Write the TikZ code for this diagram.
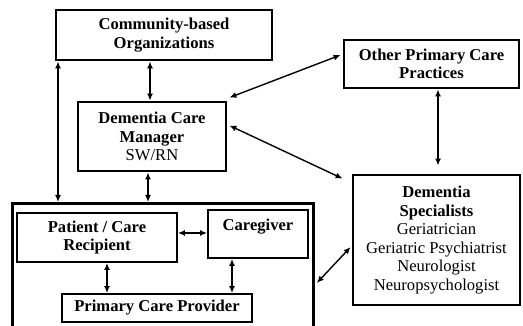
\documentclass[tikz,border=0pt]{standalone}
\usepackage{fontspec}
\setmainfont{Liberation Serif}
\usetikzlibrary{arrows.meta,calc}
\begin{document}
\begin{tikzpicture}[x=1pt,y=-1pt,
  every node/.style={font=\fontsize{16.6}{18.5}\selectfont, align=center, inner sep=0pt},
  bigbox/.style={draw, line width=2.8pt, fill=white},
  smallbox/.style={draw, line width=1.8pt},
  link/.style={line width=1.4pt, {Latex[length=7pt,width=6pt]}-{Latex[length=7pt,width=6pt]}}
]
\useasboundingbox[fill=white] (0,0) rectangle (523,326);

% care team frame (runs past the lower edge)
\node[bigbox, minimum width=301pt, minimum height=150pt, anchor=north west] (team) at (11,202) {};

% outer organisations
\node[bigbox, minimum width=216pt, minimum height=50pt] (cbo) at (164,35)
  {\textbf{Community-based}\\\textbf{Organizations}};
\node[bigbox, minimum width=148pt, minimum height=69pt] (dcm) at (152,136.5)
  {\textbf{Dementia Care}\\\textbf{Manager}\\SW/RN};
\node[bigbox, minimum width=175pt, minimum height=48pt] (opcp) at (431.5,64)
  {\textbf{Other Primary Care}\\\textbf{Practices}};
\node[bigbox, minimum width=167pt, minimum height=130pt] (ds) at (436.5,240)
  {\textbf{Dementia}\\\textbf{Specialists}\\Geriatrician\\Geriatric Psychiatrist\\Neurologist\\Neuropsychologist};

% members of the care team
\node[smallbox, minimum width=160pt, minimum height=49pt] (pat) at (97,237.5)
  {\textbf{Patient / Care}\\\textbf{Recipient}};
\node[smallbox, minimum width=100pt, minimum height=48pt] (cg) at (258,234) {};
\node[anchor=north] (cgtext) at ([yshift=-10pt]cg.north) {\textbf{Caregiver}};
\node[smallbox, minimum width=190pt, minimum height=28pt] (pcp) at (157,308)
  {\textbf{Primary Care Provider}};

% connections
\draw[link] (150,0 |- cbo.south) -- (150,0 |- dcm.north);
\draw[link] (58,0 |- cbo.south) -- (58,0 |- team.north);
\draw[link] (148,0 |- dcm.south) -- (148,0 |- team.north);
\draw[link] ([shift={(2,-3)}]dcm.north east) -- ([shift={(-2,-9)}]opcp.west);
\draw[link] ([shift={(2,-11)}]dcm.east) -- ([shift={(-9,5)}]ds.north west);
\draw[link] (438,0 |- opcp.south) -- ([yshift=8pt]438,0 |- ds.north);
\draw[link] ([shift={(2,81)}]team.north east) -- ([shift={(-1,7)}]ds.west);
\draw[link] (pat.east |- 0,233) -- (cg.west |- 0,233);
\draw[link] (107,0 |- pat.south) -- (107,0 |- pcp.north);
\draw[link] (232,0 |- cg.south) -- (232,0 |- pcp.north);
\end{tikzpicture}
\end{document}
